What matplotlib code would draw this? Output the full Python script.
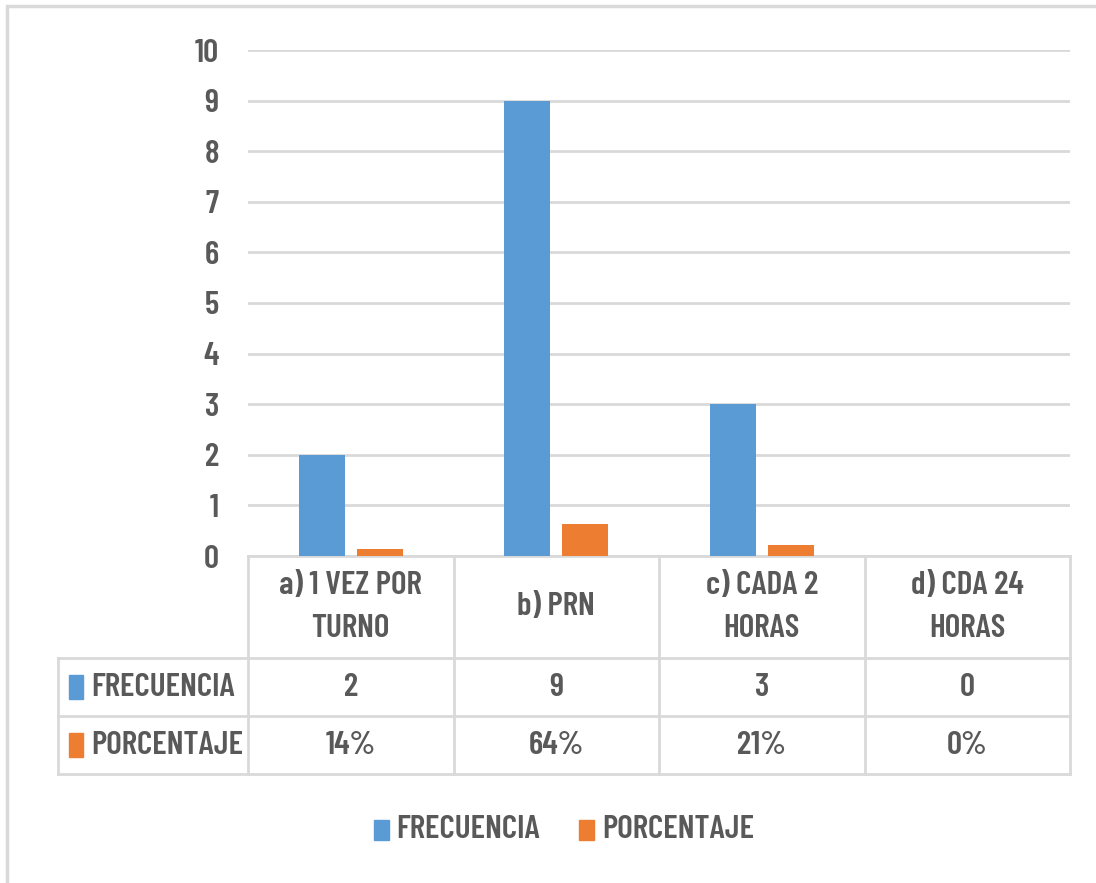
import matplotlib.pyplot as plt
from matplotlib.patches import Rectangle
from matplotlib.lines import Line2D
import matplotlib.transforms as mtransforms

categories = ["a) 1 VEZ POR\nTURNO", "b) PRN", "c) CADA 2\nHORAS", "d) CDA 24\nHORAS"]
series_names = ["FRECUENCIA", "PORCENTAJE"]
frecuencia = [2, 9, 3, 0]
porcentaje = [0.14, 0.64, 0.21, 0.0]
yticks = list(range(0, 11))

BLUE = '#5B9BD5'
ORANGE = '#ED7D31'
TEXT = '#595959'
GRID = '#D9D9D9'
FS = 24

plt.rcParams['font.family'] = ['Barlow Condensed', 'DejaVu Sans']
plt.rcParams['font.weight'] = 'semibold'

W, H = 1096, 883
fig = plt.figure(figsize=(W / 100, H / 100), dpi=100)

def px_box(x0, y0, x1, y1):
    return [x0 / W, 1 - y1 / H, (x1 - x0) / W, (y1 - y0) / H]

ax = fig.add_axes(px_box(248, 50, 1070, 556))

# bars
bw = 0.224
off = 0.14
x = list(range(len(categories)))
ax.bar([i - off for i in x], frecuencia, width=bw, color=BLUE, zorder=3)
ax.bar([i + off for i in x], porcentaje, width=bw, color=ORANGE, zorder=3)

ax.set_xlim(-0.5, len(categories) - 0.5)
ax.set_ylim(0, 10)
ax.set_yticks(yticks)
ax.yaxis.grid(True, color=GRID, linewidth=2)
ax.set_axisbelow(True)
ax.tick_params(axis='y', length=0, pad=21, labelsize=FS, labelcolor=TEXT)
ax.tick_params(axis='x', length=0, labelbottom=False)
for s in ['top', 'right', 'left']:
    ax.spines[s].set_visible(False)
ax.spines['bottom'].set_color(GRID)
ax.spines['bottom'].set_linewidth(2)

# data table under the plot: x in data units, y in axes units
trans = mtransforms.blended_transform_factory(ax.transData, ax.transAxes)
ax_h = 506
def ay(py):
    return -(py - 556) / ax_h

y_head, y_r1, y_r2 = ay(658), ay(716), ay(774)
x_left = -0.5 - 190 / 205.5
x_end = len(categories) - 0.5
line_kw = dict(color=GRID, linewidth=2, transform=trans, clip_on=False)

for yy in [y_head, y_r1, y_r2]:
    ax.add_line(Line2D([x_left, x_end], [yy, yy], **line_kw))
for i in range(len(categories) + 1):
    xx = i - 0.5
    ax.add_line(Line2D([xx, xx], [0, y_r2], **line_kw))
ax.add_line(Line2D([x_left, x_left], [y_head, y_r2], **line_kw))

for i, cat in enumerate(categories):
    ax.text(i, (0 + y_head) / 2, cat, transform=trans, ha='center', va='center',
            fontsize=FS, color=TEXT, linespacing=1.65)
    ax.text(i, (y_head + y_r1) / 2, str(frecuencia[i]), transform=trans,
            ha='center', va='center', fontsize=FS, color=TEXT)
    ax.text(i, (y_r1 + y_r2) / 2, f"{porcentaje[i]:.0%}", transform=trans,
            ha='center', va='center', fontsize=FS, color=TEXT)

# row labels with series keys
sq_w = 14 / 205.5
sq_h = 24 / ax_h
for (y0, y1), name, col in zip([(y_head, y_r1), (y_r1, y_r2)], series_names, [BLUE, ORANGE]):
    yc = (y0 + y1) / 2
    sx = -0.5 - 179 / 205.5
    ax.add_patch(Rectangle((sx, yc - sq_h / 2), sq_w, sq_h, color=col,
                           transform=trans, clip_on=False))
    ax.text(-0.5 - 157 / 205.5, yc, name, transform=trans, ha='left', va='center',
            fontsize=FS, color=TEXT)

# legend
for sx, tx, name, col in [(374, 396, series_names[0], BLUE), (579, 602, series_names[1], ORANGE)]:
    fig.add_artist(Rectangle((sx / W, 1 - 840 / H), 15 / W, 20 / H, color=col,
                             transform=fig.transFigure))
    fig.text(tx / W, 1 - 830 / H, name, ha='left', va='center', fontsize=FS, color=TEXT)

# chart frame
fig.add_artist(Rectangle((7 / W, -0.05), 1.2, 1 - 6.5 / H + 0.05, fill=False,
                         edgecolor=GRID, linewidth=2.5, transform=fig.transFigure))

fig.savefig('out.png', dpi=100, facecolor='white')
